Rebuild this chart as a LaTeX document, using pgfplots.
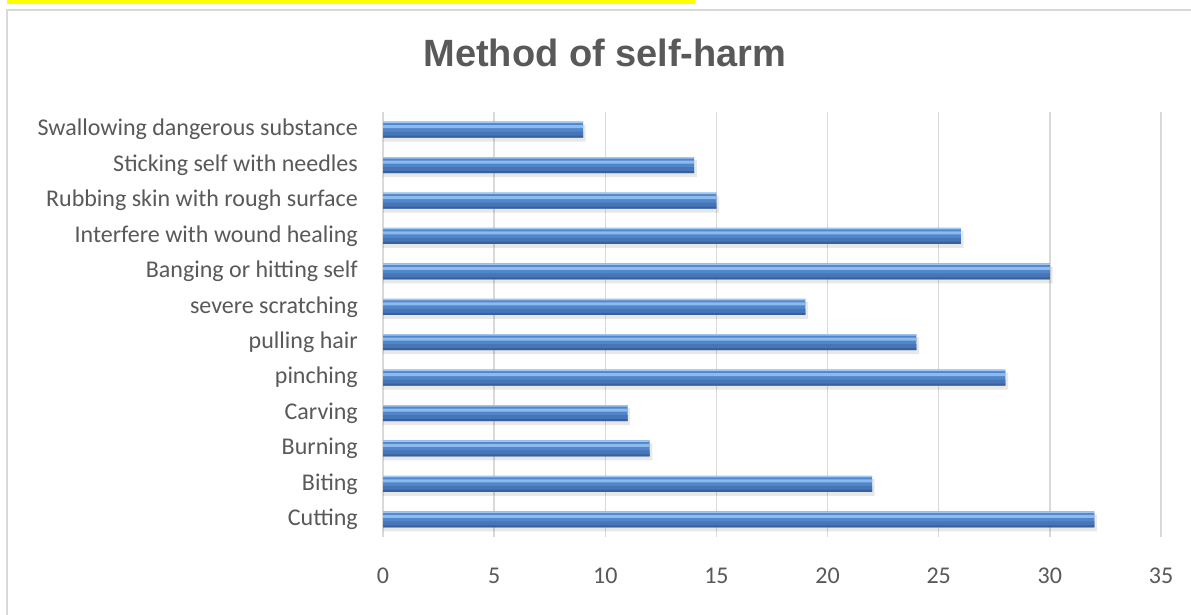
\documentclass[border=0pt]{standalone}
\usepackage{fontspec}
\setmainfont{Carlito}
\newfontfamily\titlefont{Liberation Sans}
\usepackage{pgfplots}
\usepackage{pgfplotstable}
\pgfplotsset{compat=1.18}
\definecolor{txt}{HTML}{595959}
\definecolor{grd}{HTML}{D9D9D9}
\definecolor{hilite}{HTML}{FFFF00}
\definecolor{barbase}{HTML}{5286CA}
\definecolor{bardark}{HTML}{36619A}
\definecolor{barmid}{HTML}{4675B8}
\definecolor{barlight}{HTML}{8EBBEE}
\definecolor{baredge}{HTML}{9FC6F2}

\pgfplotstableread{
v   y
32  0
22  1
12  2
11  3
28  4
24  5
19  6
30  7
26  8
15  9
14  10
9   11
}\counts

\begin{document}
\begin{tikzpicture}
\useasboundingbox (0,0) rectangle (1191bp,615bp);
\fill[white] (0,0) rectangle (1191bp,615bp);
\fill[hilite] (7bp,610.5bp) rectangle (695bp,615bp);
\draw[grd, line width=2.5bp] (7bp,-10bp) rectangle (1220bp,605bp);
\node[anchor=base, text=txt, inner sep=0pt,
  font=\titlefont\bfseries\fontsize{38bp}{44bp}\selectfont]
  at (605bp,548bp) {Method of self-harm};

\begin{axis}[
  at={(383bp,78bp)}, anchor=south west,
  width=778bp, height=425bp, scale only axis,
  xbar,
  xmin=0, xmax=35, ymin=-0.5, ymax=11.5,
  xtick={0,5,...,35},
  ytick={0,...,11},
  yticklabels={Cutting ,Biting,Burning,Carving,pinching,pulling hair,
    severe scratching,Banging or hitting self,Interfere with wound healing,
    Rubbing skin with rough surface,Sticking self with needles,
    Swallowing dangerous substance},
  axis x line*=bottom, axis y line*=left,
  x axis line style={draw=none},
  y axis line style={grd, line width=2bp},
  xmajorgrids, grid style={grd, line width=1.5bp},
  major tick length=0pt, tick style={draw=none},
  tick label style={font=\fontsize{24bp}{28bp}\selectfont, text=txt},
  /pgf/number format/assume math mode=true,
  yticklabel style={inner sep=0pt, anchor=east, xshift=-25bp},
  xticklabel style={inner sep=0pt, anchor=north, yshift=-31bp},
  clip=false,
]
% soft shadow under the bars
\addplot[draw=none, fill=black, fill opacity=0.09, bar width=17bp, bar shift=-3.5bp]
  table[x expr=\thisrow{v}+0.12, y=y] {\counts};
% bevelled bar built from stripes, bottom to top
\addplot[draw=none, fill=barbase, bar width=16bp, bar shift=0bp]
  table[x=v, y=y] {\counts};
\addplot[draw=none, fill=barmid, bar width=5bp, bar shift=-4.5bp]
  table[x=v, y=y] {\counts};
\addplot[draw=none, fill=bardark, bar width=2bp, bar shift=-7bp]
  table[x=v, y=y] {\counts};
\addplot[draw=none, fill=barlight, bar width=3bp, bar shift=3bp]
  table[x=v, y=y] {\counts};
\addplot[draw=none, fill=baredge, bar width=1.5bp, bar shift=7.25bp]
  table[x=v, y=y] {\counts};
\end{axis}
\end{tikzpicture}
\end{document}
